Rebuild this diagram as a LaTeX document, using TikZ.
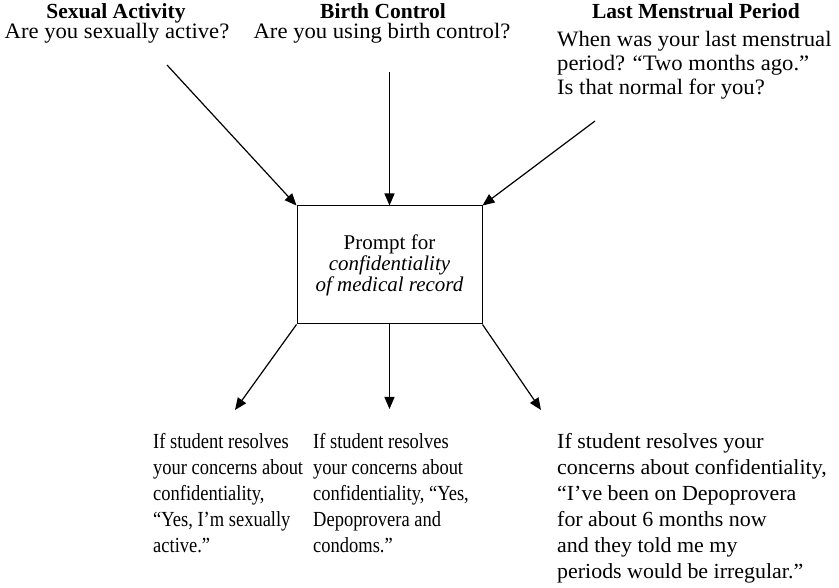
\documentclass[tikz,border=0pt]{standalone}
\usepackage{fontspec}
\setmainfont{Liberation Serif}
\newfontfamily\topfont[FakeStretch=1.03]{Liberation Serif}
\newfontfamily\botfontA[FakeStretch=0.86]{Liberation Serif}
\newfontfamily\botfontB[FakeStretch=1.02]{Liberation Serif}
\usetikzlibrary{arrows.meta}
\tikzset{
  toptext/.style={inner sep=0pt, font=\topfont\fontsize{22}{20}\selectfont},
  titletext/.style={inner sep=0pt, font=\bfseries\fontsize{21.5}{20}\selectfont},
  bottextA/.style={inner sep=0pt, align=left, font=\botfontA\fontsize{21.5}{26}\selectfont},
  bottextB/.style={inner sep=0pt, align=left, font=\botfontB\fontsize{21.5}{26}\selectfont},
  promptbox/.style={draw, line width=1pt, minimum width=185pt, minimum height=118pt, inner sep=0pt,
    align=center, font=\fontsize{21}{21}\selectfont},
  arr/.style={line width=1.2pt, -{Triangle[length=12pt,width=10pt]}}
}
\begin{document}
\begin{tikzpicture}[x=1pt,y=-1pt]
\useasboundingbox (0,0) rectangle (839,588);
% top texts
\node[titletext, anchor=base] (t1) at (116,19) {Sexual Activity};
\node[toptext, anchor=base] (q1) at (117,39) {Are you sexually active?};
\node[titletext, anchor=base] (t2) at (383,19) {Birth Control};
\node[toptext, anchor=base] (q2) at (382,39) {Are you using birth control?};
\node[titletext, anchor=base] (t3) at (696,19) {Last Menstrual Period};
\node[toptext, anchor=base west] (q3a) at (557,47) {When was your last menstrual};
\node[toptext, anchor=base west] (q3b) at (557,71) {period? “Two months ago.”};
\node[toptext, anchor=base west] (q3c) at (557,95) {Is that normal for you?};
% central box
\node[promptbox] (box) at (389.5,265) {Prompt for\\ \textit{confidentiality}\\ \textit{of medical record}};
% arrow ends
\coordinate (s1) at (167,65);
\coordinate (s2) at (389.5,72);
\coordinate (s3) at (595,121);
\coordinate (e1) at (235,410);
\coordinate (e2) at (389.5,409);
\coordinate (e3) at (541,410);
\draw[arr] (s1) -- (box.north west);
\draw[arr] (s2) -- (box.north);
\draw[arr] (s3) -- (box.north east);
\draw[arr] (box.south west) -- (e1);
\draw[arr] (box.south) -- (e2);
\draw[arr] (box.south east) -- (e3);
% bottom texts
\node[bottextA, anchor=north west] (b1) at (153,433) {If student resolves\\ your concerns about\\ confidentiality,\\ “Yes, I’m sexually\\ active.”};
\node[bottextA, anchor=north west] (b2) at (313,433) {If student resolves\\ your concerns about\\ confidentiality, “Yes,\\ Depoprovera and\\ condoms.”};
\node[bottextB, anchor=north west] (b3) at (557,433) {If student resolves your\\ concerns about confidentiality,\\ “I’ve been on Depoprovera\\ for about 6 months now\\ and they told me my\\ periods would be irregular.”};
\end{tikzpicture}
\end{document}
